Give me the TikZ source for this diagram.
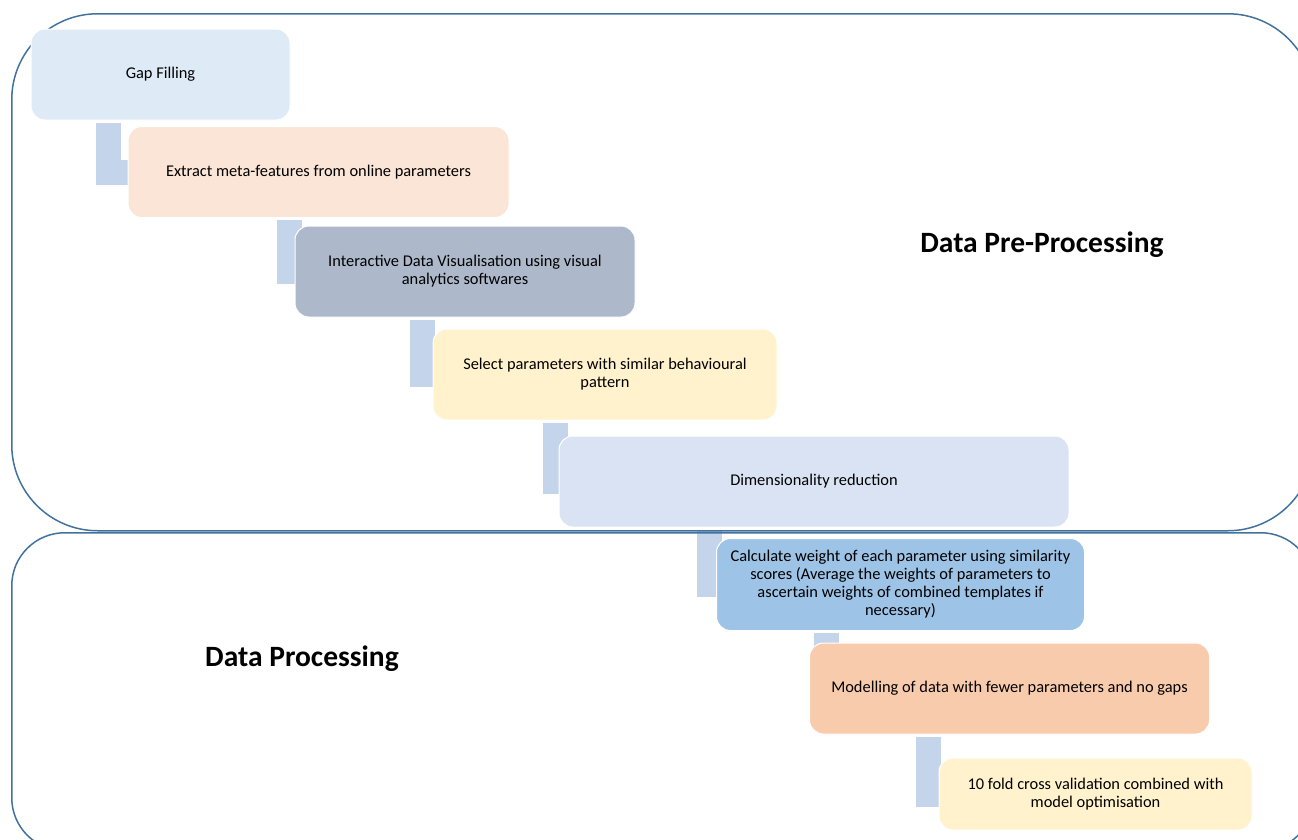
\documentclass[tikz,border=0pt]{standalone}
\usepackage{fontspec}
\setmainfont{Carlito}
\usepackage{tikz}
\usetikzlibrary{positioning,calc,backgrounds}
\definecolor{panelblue}{HTML}{41719C}
\definecolor{barblue}{HTML}{C4D4EA}
\definecolor{gapblue}{HTML}{DEEBF7}
\definecolor{extractpeach}{HTML}{FBE5D6}
\definecolor{visualslate}{HTML}{ADB9CA}
\definecolor{selectcream}{HTML}{FFF2CC}
\definecolor{dimblue}{HTML}{DAE3F3}
\definecolor{weightblue}{HTML}{9DC3E6}
\definecolor{modelpeach}{HTML}{F8CBAD}
\definecolor{foldcream}{HTML}{FFF2CC}

\begin{document}
\begin{tikzpicture}[
  x=1pt, y=1pt,
  panel/.style={
    draw=panelblue,
    line width=1.5pt,
    anchor=north west,
    inner sep=0pt
  },
  stepbox/.style={
    fill=#1,
    draw=white,
    rounded corners=14pt,
    line width=1pt,
    minimum height=91pt,
    inner sep=4pt,
    align=center,
    font=\fontsize{16.4}{18}\selectfont
  },
  stepbar/.style={
    draw=barblue,
    line width=25pt
  },
  phasetitle/.style={
    font=\fontsize{29.5}{34}\selectfont\bfseries
  }
]

  \useasboundingbox (0,0) rectangle (1298,-839);

  % --- PHASE PANELS ---
  \node[panel, rounded corners=86pt, minimum width=1302pt, minimum height=517pt] (prepanel) at (11,-13) {};
  \node[panel, rounded corners=53pt, minimum width=1302pt, minimum height=318pt] (procpanel) at (11,-532) {};

  % --- STEP BOXES ---
  \node[stepbox=gapblue, minimum width=259pt] (gap) at (160.5,-74.5) {Gap Filling};

  \node[stepbox=extractpeach, minimum width=381pt] (extract) at ($(gap)+(158,-97.5)$) {Extract meta-features from online parameters};

  \node[stepbox=visualslate, minimum width=340pt] (visual) at ($(extract)+(146.5,-99.5)$) {Interactive Data Visualisation using visual\\analytics softwares};

  \node[stepbox=selectcream, minimum width=344pt] (select) at ($(visual)+(140,-103)$) {Select parameters with similar behavioural\\pattern};

  \node[stepbox=dimblue, minimum width=510pt] (dimred) at ($(select)+(209,-107)$) {Dimensionality reduction};

  \node[stepbox=weightblue, minimum width=368pt, minimum height=92pt] (weight) at ($(dimred)+(86.5,-103)$) {Calculate weight of each parameter using similarity\\scores (Average the weights of parameters to\\ascertain weights of combined templates if\\necessary)};

  \node[stepbox=modelpeach, minimum width=400pt] (model) at ($(weight)+(109,-104)$) {Modelling of data with fewer parameters and no gaps};

  \node[stepbox=foldcream, minimum width=313pt, minimum height=72pt] (tenfold) at ($(model)+(86,-105.5)$) {10 fold cross validation combined with\\model optimisation};

  % --- STEP CONNECTORS (behind the boxes) ---
  \begin{scope}[on background layer]
    \draw[stepbar] ($(gap.south -| extract.west)+(-19.5,-2)$) |- (extract.center);
    \draw[stepbar] ($(extract.south -| visual.west)+(-5.5,-2)$) |- (visual.center);
    \draw[stepbar] ($(visual.south -| select.west)+(-10,-2)$) |- (select.center);
    \draw[stepbar] ($(select.south -| dimred.west)+(-3,-2)$) |- (dimred.center);
    \draw[stepbar] ($(dimred.south -| weight.west)+(-7,-2)$) |- (weight.center);
    \draw[stepbar] ($(weight.south -| model.west)+(17.5,-2)$) |- (model.center);
    \draw[stepbar] ($(model.south -| tenfold.west)+(-10,-2)$) |- (tenfold.center);
  \end{scope}

  % --- PHASE TITLES ---
  \node[phasetitle] (pretitle) at (1042,-245) {Data Pre-Processing};
  \node[phasetitle] (proctitle) at (302,-659) {Data Processing};

\end{tikzpicture}
\end{document}
